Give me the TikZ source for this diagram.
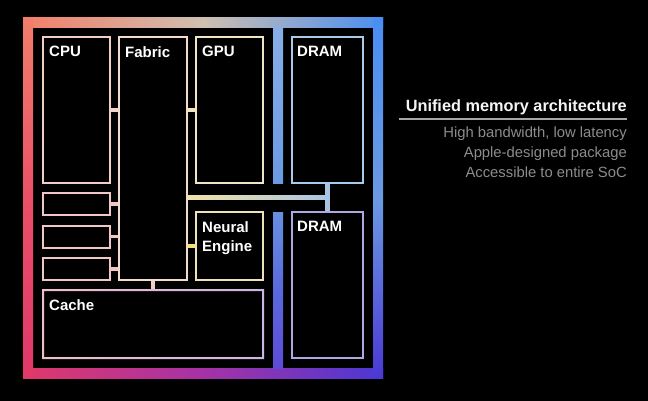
\documentclass[tikz,border=0pt]{standalone}
\usepackage{fontspec}
\newfontfamily\applefont{Liberation Sans}
\usetikzlibrary{positioning}
\definecolor{frameTL}{HTML}{F27E6A}
\definecolor{frameT}{HTML}{CFC0B0}
\definecolor{frameTR}{HTML}{4A8EF2}
\definecolor{frameL}{HTML}{EA5068}
\definecolor{frameBL}{HTML}{E0386A}
\definecolor{frameB}{HTML}{A632A6}
\definecolor{frameBR}{HTML}{4A38D4}
\definecolor{frameR}{HTML}{6A9AE2}
\definecolor{cpuc}{HTML}{F2CFC5}
\definecolor{fabricc}{HTML}{F3DCCB}
\definecolor{gpuc}{HTML}{F1E6C4}
\definecolor{dramc}{HTML}{A9CBEA}
\definecolor{smallc}{HTML}{F0C6C6}
\definecolor{neuralc}{HTML}{F0E2B8}
\definecolor{dramlowc}{HTML}{AFA8E2}
\definecolor{cacheL}{HTML}{F0BDCB}
\definecolor{cacheR}{HTML}{CDB6E4}
\definecolor{busL}{HTML}{F2E2A8}
\definecolor{busR}{HTML}{A8C4E2}
\tikzset{box/.style = {draw, line width = 2pt, inner sep = 0, minimum width = 67pt},
         lbl/.style = {anchor = north west, inner sep = 0, text = white, align = left,
                       font = \applefont\bfseries\fontsize{15}{19}\selectfont},
         link/.style = {line width = 3.5pt}}

\begin{document}
\begin{tikzpicture}[x=1pt, y=-1pt]
            \useasboundingbox (0,0) rectangle (648,401);
            \fill [black] (0,0) rectangle (648,401);
            % chip frame
            \shade [left color=frameTL, right color=frameTR, middle color=frameT] (23,18) rectangle (383,28);
            \shade [left color=frameBL, right color=frameBR, middle color=frameB] (23,368) rectangle (383,378);
            \shade [top color=frameTL, bottom color=frameBL, middle color=frameL] (23,18) rectangle (33,378);
            \shade [top color=frameTR, bottom color=frameBR, middle color=frameR] (373,18) rectangle (383,378);
            \shade [top color=frameR!80!white, bottom color=frameR] (273,28) rectangle (283,183);
            \shade [top color=frameR!90!frameBR, bottom color=frameBR!90!white, middle color=frameBR!50!frameR] (273,212) rectangle (283,368);
            % blocks
            \node [box, draw=cpuc, minimum height=146pt] (cpu) at (76.5,110) {};
            \node [box, draw=fabricc, minimum width=68pt, minimum height=243pt] (fabric) at (153,158.5) {};
            \node [box, draw=gpuc, minimum height=146pt] (gpu) at (229.5,110) {};
            \node [box, draw=dramc, minimum width=71pt, minimum height=146pt] (dramup) at (327.5,110) {};
            \node [box, draw=smallc, minimum height=22pt] (smalla) at (76.5,204) {};
            \node [box, draw=smallc, minimum height=22pt] (smallb) at (76.5,236.5) {};
            \node [box, draw=smallc, minimum height=22pt] (smallc) at (76.5,269) {};
            \node [box, draw=neuralc, minimum height=68pt] (neural) at (229.5,246) {};
            \node [box, draw=dramlowc, minimum width=71pt, minimum height=146pt] (dramlow) at (327.5,285) {};
            \node [box, draw=none, minimum width=220pt, minimum height=68pt] (cache) at (153,324) {};
            \shade [left color=cacheL, right color=cacheR, even odd rule] (cache.north west) rectangle (cache.south east)
                ([shift={(2pt,-2pt)}]cache.north west) rectangle ([shift={(-2pt,2pt)}]cache.south east);
            % links to the fabric
            \draw [link, cpuc!90!white] (cpu.east) -- (cpu.east -| fabric.west);
            \draw [link, gpuc!80!busL] (gpu.west) -- (gpu.west -| fabric.east);
            \draw [link, smallc] (smalla.east) -- (smalla.east -| fabric.west);
            \draw [link, smallc] (smallb.east) -- (smallb.east -| fabric.west);
            \draw [link, smallc] (smallc.east) -- (smallc.east -| fabric.west);
            \draw [link, neuralc!70!yellow!90!orange] (neural.west) -- (neural.west -| fabric.east);
            \draw [link, cpuc] (fabric.south) -- (fabric.south |- cache.north);
            % memory bus
            \coordinate (bus) at (327.5,197);
            \coordinate (busl) at (fabric.east |- bus);
            \shade [left color=busL, right color=busR] ([yshift=2pt]busl) rectangle ([xshift=2pt, yshift=-2pt]bus);
            \draw [link, line width=4.5pt, busR] (dramup.south) -- (dramlow.north);
            % block names
            \node [lbl] (cputext) at ([shift={(7pt,-10pt)}]cpu.north west) {CPU};
            \node [lbl] (fabrictext) at ([shift={(7pt,-10pt)}]fabric.north west) {Fabric};
            \node [lbl] (gputext) at ([shift={(7pt,-10pt)}]gpu.north west) {GPU};
            \node [lbl] (dramuptext) at ([shift={(6pt,-10pt)}]dramup.north west) {DRAM};
            \node [lbl] (neuraltext) at ([shift={(7pt,-10pt)}]neural.north west) {Neural\\Engine};
            \node [lbl] (dramlowtext) at ([shift={(6pt,-10pt)}]dramlow.north west) {DRAM};
            \node [lbl] (cachetext) at ([shift={(7pt,-10pt)}]cache.north west) {Cache};
            % caption
            \node [anchor=base east, inner sep=0, text=white!96!black, font=\applefont\bfseries\fontsize{16.3}{19}\selectfont] (umatitle) at (627,112) {Unified memory architecture};
            \draw [line width=1.2pt, white!65!black] (399,119) -- (627,119);
            \node [anchor=base east, inner sep=0, text=white!55!black, font=\applefont\fontsize{14.8}{19}\selectfont] (bandwidth) at (627,138) {High bandwidth, low latency};
            \node [anchor=base east, inner sep=0, text=white!55!black, font=\applefont\fontsize{14.8}{19}\selectfont] (package) at (627,157.5) {Apple-designed package};
            \node [anchor=base east, inner sep=0, text=white!55!black, font=\applefont\fontsize{14.8}{19}\selectfont] (access) at (627,177) {Accessible to entire SoC};

        \end{tikzpicture}
\end{document}
